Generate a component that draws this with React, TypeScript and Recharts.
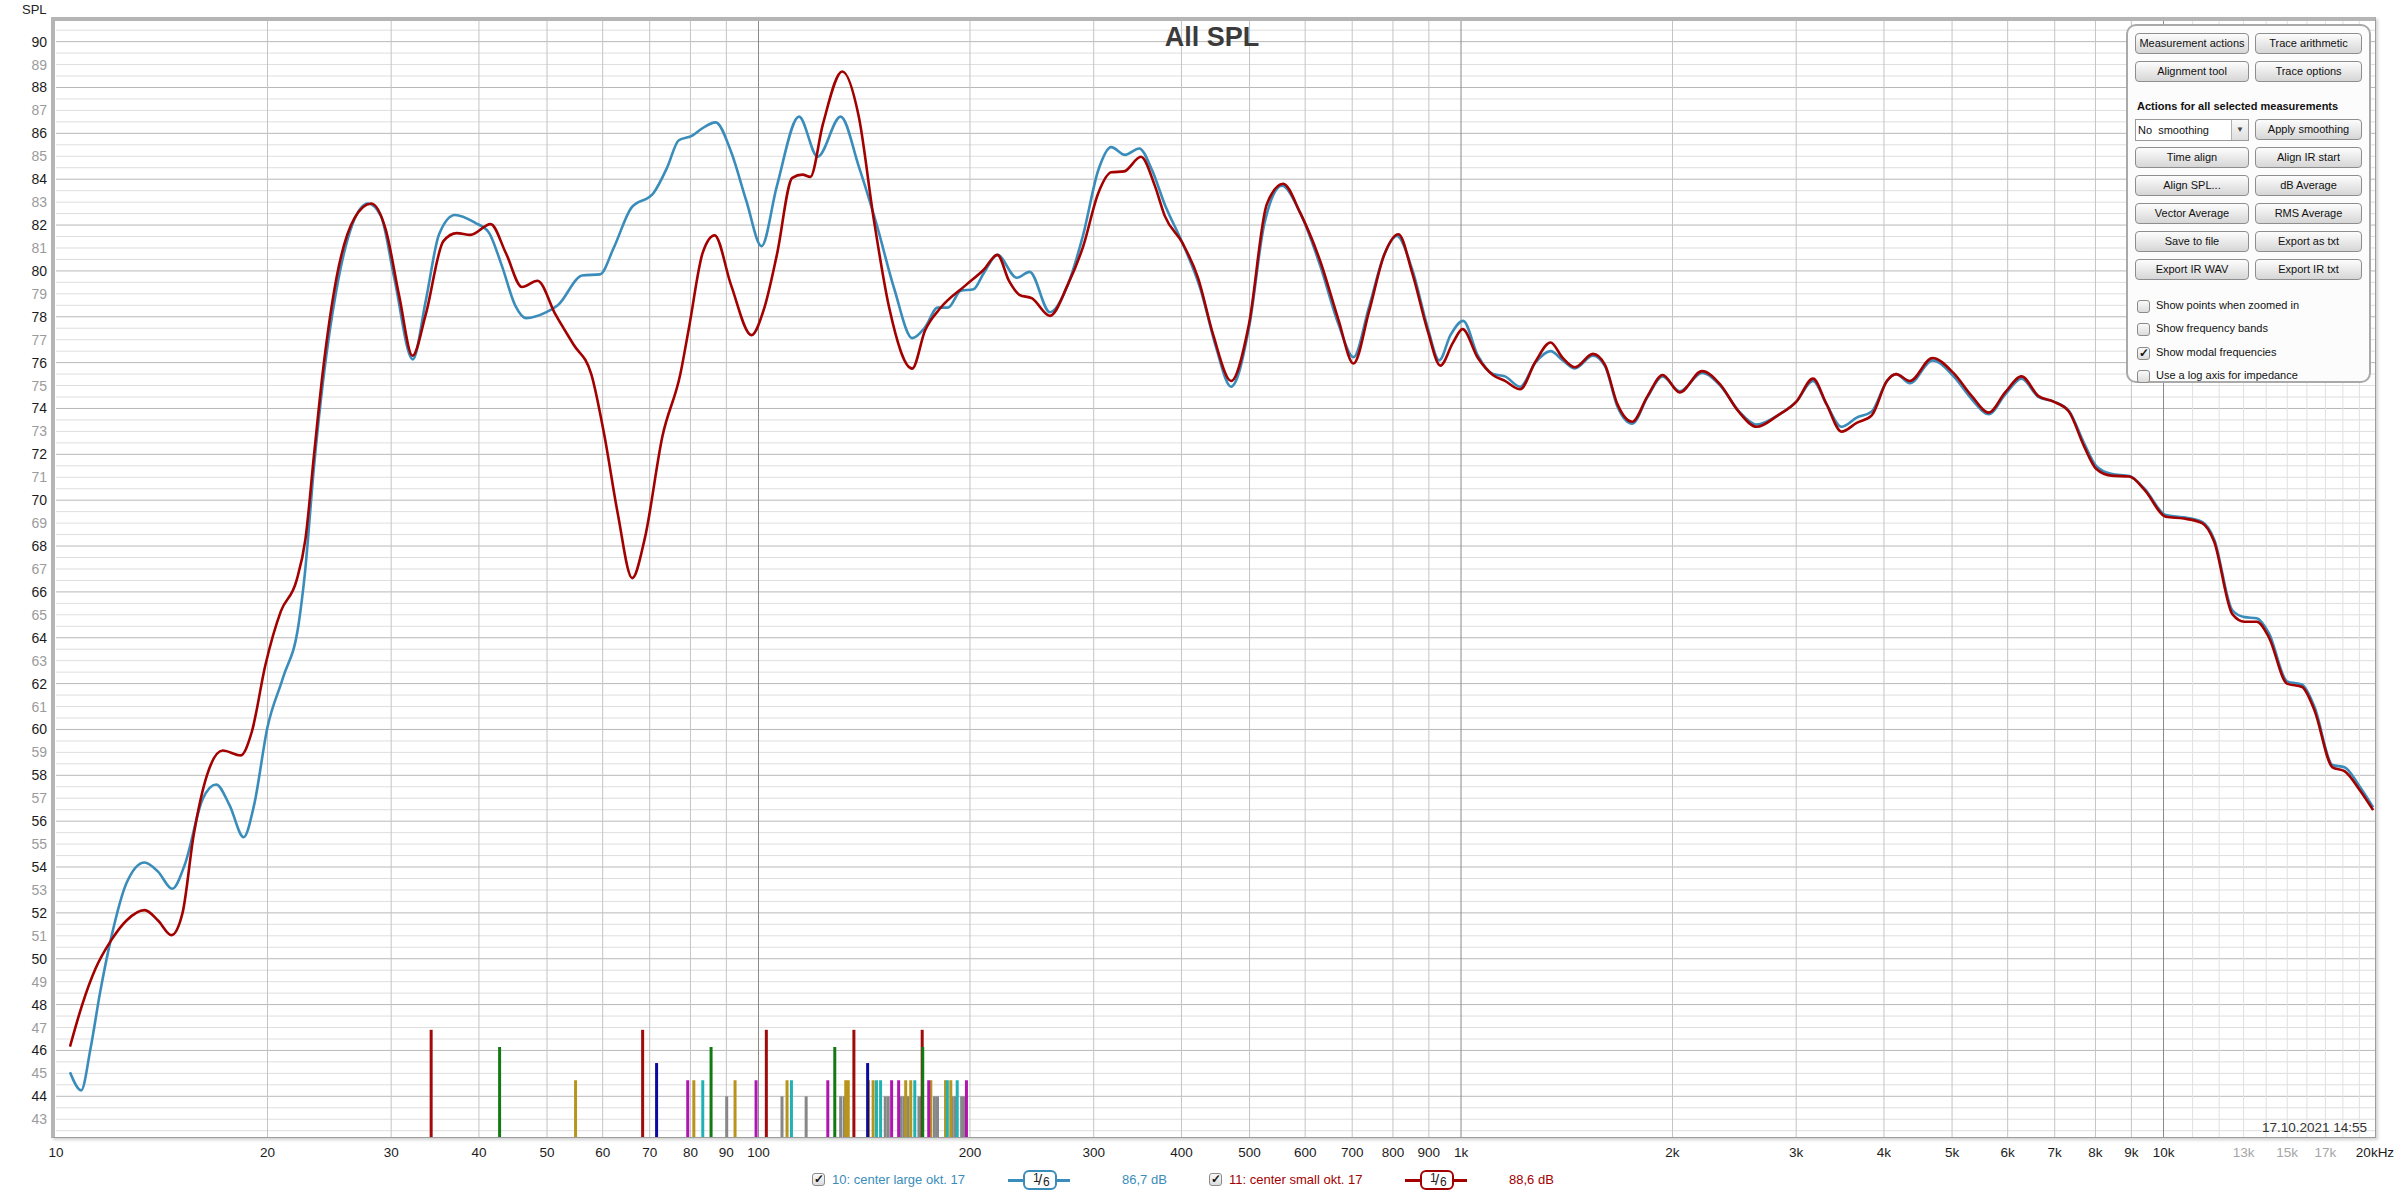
// All SPL — REW style overlay of two center-speaker measurements
// with room modal frequencies drawn along the bottom

import React from 'react';
import { ComposedChart, Line, XAxis, YAxis, ReferenceLine } from 'recharts';

// ---- measured curves (Hz / dB) ----
const largeFreq = [
  10.47, 10.86, 11.2, 11.55, 11.98, 12.6, 13.37, 13.97, 14.64, 15.25, 16.17, 16.9, 17.66, 18.5, 19.14,
  20.0, 21.04, 22.15, 22.6, 23.3, 24.0, 25.08, 26.4, 27.8, 29.0, 30.3, 32.2, 33.6, 35.1, 36.98, 39.5,
  41.27, 43.1, 45.04, 46.7, 49.9, 51.8, 56.1, 59.5, 62.2, 65.9, 70.9, 74.1, 77, 80.5, 83, 86.9, 91.4,
  96.1, 101.0, 106.2, 114.2, 121.4, 130.9, 138.9, 147.2, 156.1, 165.5, 172.6, 179.9, 186.1, 194.1,
  202.3, 209.2, 218.8, 233.2, 243.2, 259.9, 275.6, 289.7, 304.6, 317.7, 332.4, 348.3, 363.2, 378.7,
  401.6, 425.8, 447.7, 470.7, 499.2, 524.8, 556.4, 589.9, 630.8, 668.7, 703.1, 739.3, 777.4, 810.6,
  852.4, 896.3, 931.1, 966, 1007, 1057, 1110, 1155, 1214, 1276, 1341, 1396, 1452, 1541, 1603, 1669,
  1753, 1843, 1936, 2048, 2203, 2339, 2483, 2636, 2825, 3000, 3170, 3312, 3480, 3658, 3843, 4039,
  4162, 4355, 4688, 5026, 5335, 5640, 5950, 6279, 6637, 6975, 7332, 7703, 8017, 8425, 8943, 9396,
  10075, 10690, 11350, 11803, 12530, 13040, 13575, 14125, 14991, 15752, 16394, 17400, 18100, 19030, 19880,
];
const largeSpl = [
  45.05, 44.26, 46.1, 48.5, 50.9, 53.3, 54.2, 53.8, 53.05, 54.1, 56.96, 57.6, 56.7, 55.3, 56.7,
  60.1, 62.25, 64.6, 66.75, 71.5, 75.2, 79.2, 82.0, 82.94, 82.4, 79.7, 76.14, 78.7, 81.6, 82.44, 82.1,
  81.7, 80.24, 78.5, 77.94, 78.2, 78.5, 79.8, 79.85, 81.0, 82.75, 83.4, 84.5, 85.7, 85.9, 86.2, 86.48, 85.2,
  83.05, 81.08, 83.7, 86.73, 84.98, 86.73, 84.56, 82.05, 79.2, 77.07, 77.54, 78.4, 78.4, 79.13,
  79.2, 79.9, 80.7, 79.7, 79.96, 78.2, 79.4, 81.55, 84.4, 85.4, 85.06, 85.34, 84.4, 82.9,
  81.2, 79.2, 76.7, 74.95, 77.54, 82.05, 83.72, 82.55, 80.2, 77.7, 76.24, 78.4, 80.7, 81.52,
  80.05, 77.54, 76.1, 77.2, 77.82, 76.3, 75.5, 75.4, 74.95, 76.0, 76.5, 76.1, 75.75, 76.3, 75.85, 74.1,
  73.34, 74.5, 75.4, 74.75, 75.55, 75.0, 73.9, 73.3, 73.7, 74.3, 75.2, 74.2, 73.2, 73.6, 73.87, 75.2,
  75.5, 75.1, 76.1, 75.4, 74.4, 73.75, 74.6, 75.3, 74.5, 74.3, 73.9, 72.5, 71.5, 71.15, 71.05, 70.5,
  69.35, 69.25, 69.05, 68.3, 65.2, 64.9, 64.85, 64.2, 62.1, 61.95, 61.0, 58.45, 58.35, 57.5, 56.6,
];

const smallFreq = [
  10.47, 10.89, 11.38, 11.98, 12.6, 13.37, 13.97, 14.6, 15.14, 15.7, 16.4, 17.27, 18.32, 19.0, 19.86,
  20.9, 22.0, 22.65, 23.3, 24.0, 25.08, 26.6, 28.1, 29.47, 30.8, 32.17, 33.6, 35.6, 37.2, 38.9, 41.56,
  43.7, 46.05, 48.47, 51.4, 54.5, 57.8, 60.36, 63.06, 66.1, 68.85, 73.0, 77.4, 79.7, 83.3, 86.6, 91.4,
  97.7, 101.9, 106.2, 111.7, 115.5, 118.5, 123.5, 131.6, 138.9, 146.0, 153.5, 165.5, 172.6, 181.5,
  197.3, 209.2, 218.8, 227.4, 235.1, 245.2, 259.9, 275.6, 289.7, 304.6, 317.7, 331.4, 350.2, 366.5,
  378.7, 401.6, 422.3, 444.0, 470.7, 499.2, 529, 558.2, 589.9, 630.8, 668.7, 703.1, 739.3, 777.4,
  814.6, 852.4, 896.3, 934.4, 974.1, 1005, 1057, 1110, 1155, 1214, 1276, 1341, 1396, 1452, 1541, 1603,
  1669, 1753, 1843, 1936, 2048, 2203, 2339, 2483, 2636, 2825, 3000, 3170, 3312, 3480, 3658, 3843,
  4039, 4162, 4355, 4688, 5026, 5335, 5640, 5950, 6279, 6637, 6975, 7332, 7703, 8017, 8425, 8943,
  9396, 10075, 10690, 11350, 11803, 12530, 13040, 13575, 14125, 14991, 15752, 16394, 17400, 18100, 19030, 19880,
];
const smallSpl = [
  46.17, 47.97, 49.56, 50.8, 51.67, 52.12, 51.67, 51.03, 52.0, 55.38, 58.0, 59.08, 58.87, 59.9, 62.8,
  65.16, 66.5, 68.3, 72.0, 75.7, 79.7, 82.3, 82.94, 81.8, 78.9, 76.3, 78.1, 81.3, 81.65, 81.57, 82.04,
  80.77, 79.3, 79.57, 78.1, 76.8, 75.5, 72.8, 69.4, 66.6, 68.3, 72.8, 75.5, 77.6, 80.8, 81.55, 79.38,
  77.2, 78.38, 80.7, 84.06, 84.2, 84.1, 86.4, 88.7, 86.73, 82.2, 78.38, 75.74, 77.4, 78.38,
  79.38, 80.05, 80.7, 79.55, 78.96, 78.8, 78.04, 79.4, 81.05, 83.4, 84.3, 84.34, 84.98, 83.72,
  82.4, 81.2, 79.7, 77.2, 75.2, 77.7, 82.9, 83.8, 82.55, 80.4, 77.9, 75.96, 78.2, 80.7,
  81.6, 79.9, 77.4, 75.87, 76.87, 77.46, 76.2, 75.46, 75.2, 74.84, 76.04, 76.88, 76.2, 75.8, 76.38, 75.9,
  74.2, 73.42, 74.54, 75.46, 74.7, 75.63, 75.04, 73.87, 73.2, 73.7, 74.29, 75.3, 74.2, 72.99, 73.37, 73.7,
  75.2, 75.5, 75.2, 76.2, 75.54, 74.54, 73.82, 74.7, 75.4, 74.54, 74.3, 73.87, 72.37, 71.37, 71.07, 71.03,
  70.45, 69.28, 69.2, 69.0, 68.2, 65.03, 64.7, 64.7, 64.02, 62.0, 61.85, 60.85, 58.35, 58.18, 57.35, 56.48,
];

// ---- modal frequencies (Hz) and marker tops (dB) ----
const modesOblique = [90.1, 108.0, 116.9, 130.9, 132.4, 151.5, 153.0, 159.6, 161.1, 163.2, 169.2, 170.6, 178.0, 179.8, 188.5, 190.3, 194.6, 196.4];
const modesTanGold = [54.9, 80.9, 92.6, 109.8, 133.1, 134.2, 143.4, 145.6, 162.0, 164.7, 175.9, 184.6, 187.8];
const modesTanMagenta = [79.3, 99.2, 125.5, 154.7, 158.3, 174.7, 197.7];
const modesTanCyan = [83.3, 111.4, 147.2, 149.2, 166.9, 185.7, 191.8];
const modesAxialBlue = [71.6, 143.0];
const modesAxialRed = [34.2, 68.4, 102.6, 136.7, 171.0];
const modesAxialGreen = [42.8, 85.6, 128.4, 171.3];
const modeTops = { oblique: 44.0, tangential: 44.7, blue: 45.45, green: 46.15, red: 46.9 };

// ---- axes ----
const xTicks = [10, 20, 30, 40, 50, 60, 70, 80, 90, 100, 200, 300, 400, 500, 600, 700, 800, 900,
  1000, 2000, 3000, 4000, 5000, 6000, 7000, 8000, 9000, 10000, 13000, 15000, 17000, 20000];
const xTickLabels = ['10', '20', '30', '40', '50', '60', '70', '80', '90', '100', '200', '300', '400', '500',
  '600', '700', '800', '900', '1k', '2k', '3k', '4k', '5k', '6k', '7k', '8k', '9k', '10k', '13k', '15k', '17k', '20kHz'];
const xMinorTicks = [11000, 12000, 13000, 14000, 15000, 16000, 17000, 18000, 19000];
const yTicks = Array.from({ length: 48 }, (_, i) => 43 + i);
const yDomain: [number, number] = [42.225, 90.9];

const FONT = '"Liberation Sans", Arial, sans-serif';
const BLUE = '#3a8dbb';
const RED = '#a30000';

const largeData = largeFreq.map((f, i) => ({ f, spl: largeSpl[i] }));
const smallData = smallFreq.map((f, i) => ({ f, spl: smallSpl[i] }));

const modeGroups = [
  { freqs: modesOblique, top: modeTops.oblique, color: '#878787' },
  { freqs: modesTanGold, top: modeTops.tangential, color: '#b8941c' },
  { freqs: modesTanMagenta, top: modeTops.tangential, color: '#b015b0' },
  { freqs: modesTanCyan, top: modeTops.tangential, color: '#1fb2b5' },
  { freqs: modesAxialBlue, top: modeTops.blue, color: '#0a0aa0' },
  { freqs: modesAxialRed, top: modeTops.red, color: '#a00a0a' },
  { freqs: modesAxialGreen, top: modeTops.green, color: '#127a12' },
];

// horizontal grid every 0.5 dB, darker on even values
const hGrid: number[] = [];
for (let v = 42.5; v <= 90.5; v += 0.5) hGrid.push(v);
const vGrid = xTicks.filter((t) => t > 10 && t < 20000 && !xMinorTicks.includes(t));

const YTick = (props: any) => {
  const { x, y, payload } = props;
  const v = payload.value as number;
  return (
    <text x={x - 9} y={y + 5} textAnchor="end" fontSize={14} fontFamily={FONT}
      fill={v % 2 === 0 ? '#1c1c1c' : '#9b9b9b'}>{v}</text>
  );
};

const XTick = (props: any) => {
  const { x, y, payload } = props;
  const idx = xTicks.indexOf(payload.value);
  const grey = payload.value === 13000 || payload.value === 15000 || payload.value === 17000;
  return (
    <text x={x} y={y + 20} textAnchor="middle" fontSize={13.5} fontFamily={FONT}
      fill={grey ? '#a6a6a6' : '#1c1c1c'}>{xTickLabels[idx]}</text>
  );
};

const Button = ({ label, left, top, width }: { label: string; left: number; top: number; width: number }) => (
  <div style={{
    position: 'absolute', left, top, width, height: 21, boxSizing: 'border-box',
    border: '1px solid #8e8e8e', borderRadius: 4,
    background: 'linear-gradient(#fdfdfd, #d6d6d6)', fontSize: 11, lineHeight: '19px',
    textAlign: 'center', color: '#111', whiteSpace: 'nowrap',
  }}>{label}</div>
);

const CheckBox = ({ left, top, checked }: { left: number; top: number; checked: boolean }) => (
  <div style={{
    position: 'absolute', left, top, width: 13, height: 13, boxSizing: 'border-box',
    border: '1px solid #8a8a8a', borderRadius: 3, background: 'linear-gradient(#fafafa, #dcdcdc)',
    fontSize: 12, lineHeight: '11px', textAlign: 'center', color: '#111', fontWeight: 'bold',
  }}>{checked ? '✓' : ''}</div>
);

const buttonRows = [
  ['Measurement actions', 'Trace arithmetic'],
  ['Alignment tool', 'Trace options'],
];
const buttonRows2 = [
  ['Time align', 'Align IR start'],
  ['Align SPL...', 'dB Average'],
  ['Vector Average', 'RMS Average'],
  ['Save to file', 'Export as txt'],
  ['Export IR WAV', 'Export IR txt'],
];
const checkOptions = [
  ['Show points when zoomed in', false],
  ['Show frequency bands', false],
  ['Show modal frequencies', true],
  ['Use a log axis for impedance', false],
] as const;

const ControlPanel = () => (
  <div style={{
    position: 'absolute', left: 2126, top: 24, width: 245, height: 359, boxSizing: 'border-box',
    border: '2px solid #a9a9a9', borderRadius: 10, background: '#fcfcfc', fontFamily: FONT,
  }}>
    {buttonRows.map((r, i) => (
      <React.Fragment key={'a' + i}>
        <Button label={r[0]} left={7} top={7 + i * 28} width={114} />
        <Button label={r[1]} left={127} top={7 + i * 28} width={107} />
      </React.Fragment>
    ))}
    <div style={{ position: 'absolute', left: 9, top: 74, fontSize: 11, fontWeight: 'bold', color: '#111', whiteSpace: 'nowrap' }}>
      Actions for all selected measurements
    </div>
    <div style={{
      position: 'absolute', left: 7, top: 93, width: 114, height: 22, boxSizing: 'border-box',
      border: '1px solid #9a9a9a', background: '#fff', fontSize: 11, lineHeight: '20px', paddingLeft: 2, color: '#111',
    }}>
      No&nbsp;&nbsp;smoothing
      <div style={{ position: 'absolute', right: 0, top: 0, width: 16, height: 20, borderLeft: '1px solid #b0b0b0', background: 'linear-gradient(#fafafa,#dedede)', textAlign: 'center', fontSize: 8, lineHeight: '20px', color: '#444' }}>▼</div>
    </div>
    <Button label="Apply smoothing" left={127} top={93} width={107} />
    {buttonRows2.map((r, i) => (
      <React.Fragment key={'b' + i}>
        <Button label={r[0]} left={7} top={121 + i * 28} width={114} />
        <Button label={r[1]} left={127} top={121 + i * 28} width={107} />
      </React.Fragment>
    ))}
    {checkOptions.map((c, i) => (
      <React.Fragment key={'c' + i}>
        <CheckBox left={9} top={274 + i * 23.3} checked={c[1]} />
        <div style={{ position: 'absolute', left: 28, top: 273 + i * 23.3, fontSize: 11, color: '#111', whiteSpace: 'nowrap' }}>{c[0]}</div>
      </React.Fragment>
    ))}
  </div>
);

// smoothing badge: coloured line with a rounded box holding "1/6"
const SmoothIcon = ({ left, color }: { left: number; color: string }) => (
  <div style={{ position: 'absolute', left, top: 1170, width: 62, height: 20, fontFamily: FONT }}>
    <div style={{ position: 'absolute', left: 0, top: 9, width: 62, height: 3, background: color }} />
    <div style={{
      position: 'absolute', left: 15, top: 0, width: 34, height: 20, boxSizing: 'border-box',
      border: `2px solid ${color}`, borderRadius: 6, background: '#fff', color: '#222',
    }}>
      <span style={{ position: 'absolute', left: 8, top: -1, fontSize: 12 }}>1</span>
      <span style={{ position: 'absolute', left: 13, top: -1, fontSize: 15 }}>/</span>
      <span style={{ position: 'absolute', left: 18, top: 3, fontSize: 12 }}>6</span>
    </div>
  </div>
);

const Legend = () => (
  <div style={{ fontFamily: FONT, fontSize: 13 }}>
    <CheckBox left={812} top={1173} checked={true} />
    <div style={{ position: 'absolute', left: 832, top: 1172, color: BLUE, whiteSpace: 'nowrap' }}>10: center large okt. 17</div>
    <SmoothIcon left={1008} color={BLUE} />
    <div style={{ position: 'absolute', left: 1122, top: 1172, color: BLUE, whiteSpace: 'nowrap' }}>86,7 dB</div>
    <CheckBox left={1209} top={1173} checked={true} />
    <div style={{ position: 'absolute', left: 1229, top: 1172, color: RED, whiteSpace: 'nowrap' }}>11: center small okt. 17</div>
    <SmoothIcon left={1405} color={RED} />
    <div style={{ position: 'absolute', left: 1509, top: 1172, color: RED, whiteSpace: 'nowrap' }}>88,6 dB</div>
  </div>
);

export default function App() {
  return (
    <div style={{ position: 'absolute', left: 0, top: 0, width: 2400, height: 1196, background: '#fff', fontFamily: FONT }}>
      <ComposedChart width={2400} height={1196} margin={{ top: 21, right: 25, bottom: 29, left: 0 }}>
        <XAxis dataKey="f" type="number" scale="log" domain={[10, 20000]} allowDataOverflow
          ticks={xTicks} tick={<XTick />} tickSize={0} tickMargin={0} axisLine={false} tickLine={false}
          interval={0} height={30} />
        <YAxis type="number" domain={yDomain} allowDataOverflow ticks={yTicks} tick={<YTick />}
          tickSize={0} tickMargin={0} axisLine={false} tickLine={false} interval={0} width={56} />

        {/* grid */}
        {hGrid.map((v) => (
          <ReferenceLine key={'h' + v} y={v} stroke={v % 2 === 0 ? '#b9b9b9' : '#dedede'} strokeWidth={1} />
        ))}
        {xMinorTicks.map((v) => (
          <ReferenceLine key={'vm' + v} x={v} stroke="#e0e0e0" strokeWidth={1} />
        ))}
        {vGrid.map((v) => (
          <ReferenceLine key={'v' + v} x={v}
            stroke={v === 100 || v === 1000 || v === 10000 ? '#8a8a8a' : '#c4c4c4'} strokeWidth={1} />
        ))}

        {/* modal frequencies */}
        {modeGroups.map((g, gi) => g.freqs.map((f, i) => (
          <ReferenceLine key={'m' + gi + '-' + i}
            segment={[{ x: f, y: yDomain[0] }, { x: f, y: g.top }]}
            stroke={g.color} strokeWidth={3} />
        )))}

        <Line data={largeData} dataKey="spl" type="monotone" stroke={BLUE} strokeWidth={2.6}
          dot={false} isAnimationActive={false} />
        <Line data={smallData} dataKey="spl" type="monotone" stroke={RED} strokeWidth={2.6}
          dot={false} isAnimationActive={false} />
      </ComposedChart>

      {/* plot frame */}
      <div style={{
        position: 'absolute', left: 51, top: 17, width: 2325, height: 1121, boxSizing: 'border-box',
        borderTop: '4px solid #b5b5b5', borderLeft: '4px solid #b5b5b5',
        borderRight: '1px solid #9d9d9d', borderBottom: '1px solid #9d9d9d',
        boxShadow: '2px 2px 3px rgba(0,0,0,0.18)', pointerEvents: 'none',
      }} />

      <div style={{ position: 'absolute', left: 22, top: 2, fontSize: 13, color: '#222' }}>SPL</div>
      <div style={{ position: 'absolute', left: 1212, top: 22, transform: 'translateX(-50%)', fontSize: 27, fontWeight: 'bold', color: '#3b3b3b', whiteSpace: 'nowrap' }}>All SPL</div>
      <div style={{ position: 'absolute', left: 2262, top: 1120, fontSize: 13.5, color: '#333', whiteSpace: 'nowrap' }}>17.10.2021 14:55</div>

      <ControlPanel />
      <Legend />
    </div>
  );
}
